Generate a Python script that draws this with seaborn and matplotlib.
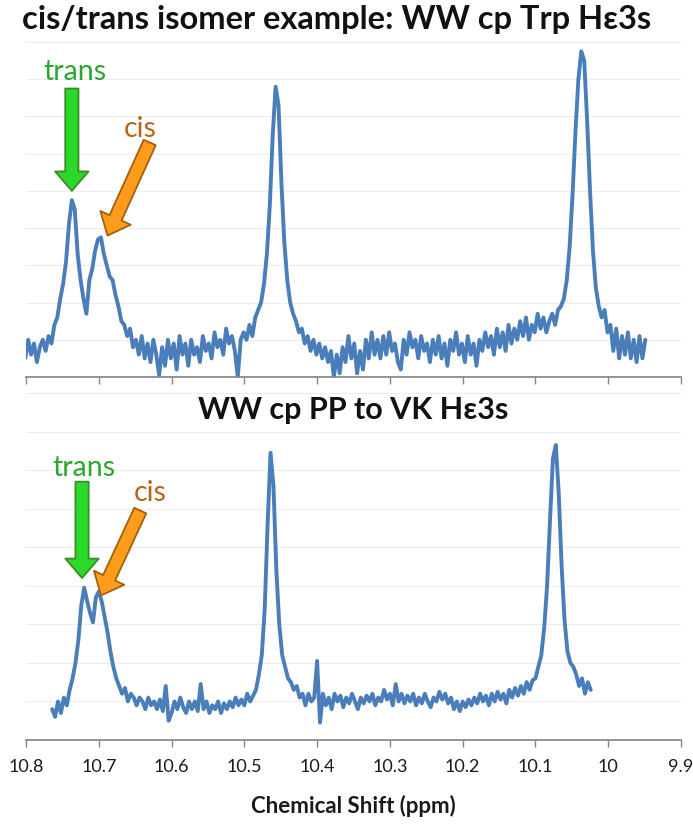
import numpy as np
import pandas as pd
import seaborn as sns
import matplotlib.pyplot as plt

# intensities (grid units, evenly spaced in ppm)
top_start, top_end = 10.805, 9.949
top_intensity = [
    0.9, 0.5, 1.0, 0.6, 0.9, 0.4, 0.8, 1.0, 0.7, 1.1,
    0.9, 1.4, 1.6, 2.1, 2.5, 3.1, 4.1, 4.75, 4.5, 3.3,
    2.6, 2.1, 1.7, 2.6, 2.9, 3.4, 3.7, 3.75, 3.3, 3.0,
    2.7, 2.6, 2.2, 1.9, 1.5, 1.4, 1.1, 1.3, 0.8, 1.0,
    0.6, 1.1, 0.5, 0.9, 0.4, 1.0, 0.6, 0.05, 0.8, 0.3,
    1.0, 0.5, 0.9, 0.2, 1.1, 0.6, 0.9, 0.3, 1.0, 0.6,
    0.8, 0.4, 1.1, 0.7, 0.9, 0.5, 1.2, 0.8, 1.0, 0.6,
    1.3, 0.9, 1.1, 0.7, 0.0, 1.0, 1.2, 1.0, 1.4, 1.1,
    1.6, 1.8, 2.0, 2.5, 3.3, 4.6, 6.5, 7.8, 7.3, 5.2,
    3.6, 2.6, 2.0, 1.7, 1.5, 1.2, 1.3, 0.9, 1.1, 0.7,
    1.0, 0.6, 0.9, 0.5, 0.8, 0.4, 0.7, 0.0, 0.6, 0.1,
    0.8, 0.4, 1.1, 0.5, 0.9, 0.1, 0.7, 0.2, 1.0, 0.5,
    1.2, 0.6, 1.0, 0.5, 1.1, 0.6, 1.2, 0.7, 0.9, 0.4,
    0.2, 1.0, 0.6, 1.2, 0.8, 1.0, 0.5, 1.1, 0.7, 0.9,
    0.4, 1.0, 0.6, 1.1, 0.5, 0.9, 0.3, 1.0, 0.7, 1.2,
    0.6, 0.9, 0.4, 1.1, 0.6, 0.9, 0.3, 1.0, 0.7, 1.2,
    0.8, 1.1, 0.6, 1.3, 0.8, 1.2, 0.7, 1.4, 0.9, 1.3,
    1.0, 1.5, 1.1, 1.6, 1.0, 1.4, 1.2, 1.7, 1.3, 1.6,
    1.2, 1.5, 1.7, 1.4, 1.8, 1.9, 2.1, 2.6, 3.5, 4.9,
    6.6, 8.0, 8.75, 8.5, 6.9, 5.0, 3.4, 2.4, 1.9, 1.6,
    1.8, 1.2, 1.4, 0.7, 1.3, 0.5, 1.1, 0.6, 1.2, 0.5,
    1.0, 0.4, 1.1, 0.5, 1.0,
]

bottom_start, bottom_end = 10.764, 10.024
bottom_intensity = [
    0.8, 0.6, 1.0, 0.7, 1.1, 0.9, 1.3, 1.6, 2.0, 2.6,
    3.5, 3.95, 3.6, 3.3, 3.05, 3.7, 3.85, 3.6, 3.2, 2.8,
    2.3, 1.9, 1.6, 1.4, 1.2, 1.35, 1.0, 1.2, 1.1, 0.9,
    1.1, 1.0, 0.8, 1.1, 0.9, 1.0, 0.8, 1.05, 0.75, 1.4,
    0.5, 0.7, 1.0, 0.8, 1.1, 0.85, 0.7, 1.0, 0.8, 1.0,
    0.75, 1.45, 0.8, 1.0, 0.7, 0.9, 0.8, 1.0, 0.7, 0.95,
    0.8, 1.0, 0.85, 1.1, 0.9, 1.05, 0.9, 1.2, 1.0, 1.15,
    1.3, 1.7, 2.2, 3.4, 5.6, 7.45, 6.6, 4.4, 3.0, 2.2,
    1.9, 1.6, 1.5, 1.3, 1.4, 1.1, 1.2, 0.9, 1.2, 1.0,
    1.1, 2.05, 0.45, 1.2, 0.9, 1.1, 0.8, 1.2, 1.0, 1.15,
    0.85, 1.1, 0.95, 1.2, 1.0, 0.8, 1.1, 0.95, 1.15, 1.0,
    1.2, 0.9, 1.1, 1.0, 1.3, 1.05, 1.2, 0.9, 1.45, 1.0,
    1.2, 0.95, 1.15, 1.0, 1.2, 0.9, 1.1, 0.95, 1.2, 1.0,
    0.85, 1.1, 1.0, 1.25, 1.05, 1.2, 0.95, 1.1, 0.8, 1.0,
    0.75, 1.0, 0.85, 1.05, 0.9, 1.1, 0.95, 1.2, 1.0, 1.15,
    0.9, 1.2, 1.0, 1.25, 1.05, 1.2, 0.95, 1.3, 1.1, 1.35,
    1.15, 1.4, 1.2, 1.5, 1.3, 1.55, 1.6, 1.9, 2.2, 2.9,
    4.0, 5.7, 7.3, 7.65, 6.4, 4.5, 3.1, 2.3, 2.0, 1.9,
    1.7, 1.4, 1.6, 1.2, 1.5, 1.3,
]

tick_values = [10.8, 10.7, 10.6, 10.5, 10.4, 10.3, 10.2, 10.1, 10.0, 9.9]
tick_labels = ["10.8", "10.7", "10.6", "10.5", "10.4", "10.3", "10.2", "10.1", "10", "9.9"]

top_title = "cis/trans isomer example: WW cp Trp H\u03b53s"
bottom_title = "WW cp PP to VK H\u03b53s"

top = pd.DataFrame({"shift": np.linspace(top_start, top_end, len(top_intensity)),
                    "intensity": top_intensity})
bottom = pd.DataFrame({"shift": np.linspace(bottom_start, bottom_end, len(bottom_intensity)),
                       "intensity": bottom_intensity})

sns.set_theme(style="white")
plt.rcParams["font.family"] = ["Lato", "DejaVu Sans"]

line_color = "#4a7ebb"
green_fc, green_ec, green_txt = "#2bd92b", "#3c8c2a", "#2ea52e"
orange_fc, orange_ec, orange_txt = "#ff9c1c", "#a2600c", "#b5651d"

fig = plt.figure(figsize=(6.93, 8.24), dpi=100)
W, H = 693, 824
ax1 = fig.add_axes([26 / W, 1 - 377 / H, 655 / W, 335 / H])
ax2 = fig.add_axes([26 / W, 1 - 740 / H, 655 / W, 347 / H])

for ax, df in [(ax1, top), (ax2, bottom)]:
    sns.lineplot(data=df, x="shift", y="intensity", ax=ax, color=line_color,
                 linewidth=2.8, estimator=None, sort=False)
    ax.set_xlim(10.8, 9.9)
    ax.set_ylim(0, 9)
    ax.set_yticks(range(1, 10))
    ax.yaxis.grid(True, color="#ededed", linewidth=0.8)
    ax.tick_params(axis="y", left=False, labelleft=False)
    ax.set_xticks(tick_values)
    ax.tick_params(axis="x", direction="out", length=5, width=1, color="#868686",
                   bottom=True, pad=9, labelsize=13, labelcolor="#1a1a1a")
    for s in ["top", "right", "left"]:
        ax.spines[s].set_visible(False)
    ax.spines["bottom"].set_color("#868686")
    ax.set_ylabel("")
    ax.set_xlabel("")

ax1.set_xticklabels([])
ax2.set_xticklabels(tick_labels)
ax2.set_xlabel("Chemical Shift (ppm)", fontsize=16, fontweight="bold",
               color="#1a1a1a", labelpad=14)

fig.text(22 / W, 1 - 19 / H, top_title, ha="left", va="center",
         fontsize=23.5, fontweight="bold", color="#111111")
fig.text(353 / W, 1 - 410 / H, bottom_title, ha="center", va="center",
         fontsize=22, fontweight="bold", color="#111111")


def arrow(ax, tail, tip, fc, ec):
    ax.annotate("", xy=tip, xytext=tail,
                arrowprops=dict(arrowstyle="simple,head_length=1.4,head_width=2.4,tail_width=0.95",
                                fc=fc, ec=ec, lw=1.3, shrinkA=0, shrinkB=0,
                                mutation_scale=10))


# top panel labels
ax1.text(10.733, 8.2, "trans", color=green_txt, fontsize=20.5, ha="center", va="center")
arrow(ax1, (10.737, 7.75), (10.737, 5.0), green_fc, green_ec)
ax1.text(10.643, 6.65, "cis", color=orange_txt, fontsize=20.5, ha="center", va="center")
arrow(ax1, (10.630, 6.3), (10.688, 3.8), orange_fc, orange_ec)

# bottom panel labels
ax2.text(10.720, 7.05, "trans", color=green_txt, fontsize=20.5, ha="center", va="center")
arrow(ax2, (10.723, 6.7), (10.723, 4.2), green_fc, green_ec)
ax2.text(10.630, 6.4, "cis", color=orange_txt, fontsize=20.5, ha="center", va="center")
arrow(ax2, (10.643, 5.95), (10.697, 3.75), orange_fc, orange_ec)

fig.savefig("out.png", dpi=100, facecolor="white")
